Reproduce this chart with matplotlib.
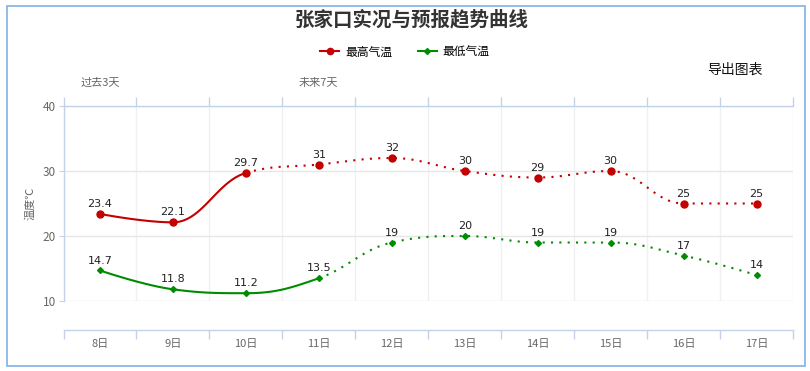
import matplotlib
matplotlib.use('Agg')
import matplotlib.pyplot as plt
import matplotlib.transforms as mtransforms
from matplotlib.patches import Rectangle
from matplotlib.lines import Line2D
import numpy as np

plt.rcParams['font.family'] = ['Noto Sans CJK SC', 'DejaVu Sans']

# DATA
days = ['8日', '9日', '10日', '11日', '12日', '13日', '14日', '15日', '16日', '17日']
high_temp = [23.4, 22.1, 29.7, 31, 32, 30, 29, 30, 25, 25]
low_temp = [14.7, 11.8, 11.2, 13.5, 19, 20, 19, 19, 17, 14]
high_obs_count = 3   # red solid through 10日
low_obs_count = 4    # green solid through 11日
period_labels = ['过去3天', '未来7天']
period_pos = [0, 3]

RED = '#c40000'
GREEN = '#008c00'
AXIS_C = '#c3d2e6'


def spline_segments(xs, ys, smoothing=1.5):
    """Highcharts-like spline: returns sampled bezier points per segment."""
    n = len(xs)
    denom = smoothing + 1
    left = [(xs[i], ys[i]) for i in range(n)]
    right = [(xs[i], ys[i]) for i in range(n)]
    for i in range(1, n - 1):
        lx, ly = xs[i - 1], ys[i - 1]
        px, py = xs[i], ys[i]
        nx, ny = xs[i + 1], ys[i + 1]
        lcx = (smoothing * px + lx) / denom
        lcy = (smoothing * py + ly) / denom
        rcx = (smoothing * px + nx) / denom
        rcy = (smoothing * py + ny) / denom
        corr = ((rcy - lcy) * (rcx - px)) / (rcx - lcx) + py - rcy
        lcy += corr
        rcy += corr
        if lcy > ly and lcy > py:
            lcy = max(ly, py); rcy = 2 * py - lcy
        elif lcy < ly and lcy < py:
            lcy = min(ly, py); rcy = 2 * py - lcy
        if rcy > ny and rcy > py:
            rcy = max(ny, py); lcy = 2 * py - rcy
        elif rcy < ny and rcy < py:
            rcy = min(ny, py); lcy = 2 * py - rcy
        left[i] = (lcx, lcy)
        right[i] = (rcx, rcy)
    segs = []
    t = np.linspace(0, 1, 40)[:, None]
    for i in range(n - 1):
        p0 = np.array([xs[i], ys[i]])
        p1 = np.array(right[i])
        p2 = np.array(left[i + 1])
        p3 = np.array([xs[i + 1], ys[i + 1]])
        pts = ((1 - t) ** 3) * p0 + 3 * ((1 - t) ** 2) * t * p1 + 3 * (1 - t) * t ** 2 * p2 + t ** 3 * p3
        segs.append(pts)
    return segs


W, H = 810, 371
fig = plt.figure(figsize=(W / 100, H / 100), dpi=100)
ax = fig.add_axes([63.5 / W, 1 - 301 / H, (793 - 63.5) / W, (301 - 106) / H])

x = np.arange(len(days))
for vals, color, n_obs, marker, ms in [(high_temp, RED, high_obs_count, 'o', 5.0),
                                       (low_temp, GREEN, low_obs_count, 'D', 3.0)]:
    segs = spline_segments(list(x), vals)
    solid = np.vstack(segs[:n_obs - 1])
    dotted = np.vstack(segs[n_obs - 1:])
    ax.plot(solid[:, 0], solid[:, 1], color=color, lw=1.5, solid_capstyle='round', zorder=3)
    ax.plot(dotted[:, 0], dotted[:, 1], color=color, lw=1.5, linestyle=(0, (1, 3)), zorder=3)
    ax.plot(x, vals, linestyle='none', marker=marker, ms=ms, color=color, zorder=4)
    for xi, v in zip(x, vals):
        ax.annotate(f'{v:g}', (xi, v), xytext=(0, 3.5), textcoords='offset points',
                    ha='center', va='bottom', fontsize=8, color='#222222', zorder=5,
                    family='DejaVu Sans')

ax.set_xlim(-0.5, len(days) - 0.5)
ax.set_ylim(10, 40)
ax.set_yticks([10, 20, 30, 40])
ax.set_xticks(np.arange(-0.5, len(days), 1))
ax.set_xticks(x, minor=True)
ax.set_xticklabels([])
ax.set_xticklabels(days, minor=True)

ax.grid(axis='y', color='#e6e6e6', lw=1)
ax.grid(axis='x', which='major', color='#f0f0f0', lw=1)
ax.set_axisbelow(True)

ax.spines['right'].set_visible(False)
for s in ['left', 'top', 'bottom']:
    ax.spines[s].set_color(AXIS_C)
    ax.spines[s].set_linewidth(1)
ax.spines['bottom'].set_position(('outward', 21))

ax.tick_params(axis='x', which='major', top=True, bottom=True, direction='out',
               length=6.3, color=AXIS_C, width=1)
ax.tick_params(axis='x', which='minor', top=False, bottom=False, length=0, pad=6,
               labelsize=8, labelcolor='#666666')
ax.tick_params(axis='y', length=3.5, color=AXIS_C, labelsize=8.5, labelcolor='#666666', pad=2)

fig.text(30 / W, 1 - 203 / H, '温度℃', rotation=90, ha='center', va='center',
         fontsize=8, color='#666666')

# period labels above the plot
trans = mtransforms.blended_transform_factory(ax.transData, fig.transFigure)
for lab, p in zip(period_labels, period_pos):
    ax.text(p, 1 - 83 / H, lab, transform=trans, ha='center', va='center',
            fontsize=8, color='#666666')

fig.text(412 / W, 1 - 20 / H, '张家口实况与预报趋势曲线', ha='center', va='center',
         fontsize=14, fontweight='bold', color='#333333')
fig.text(735 / W, 1 - 70 / H, '导出图表', ha='center', va='center', fontsize=10, color='#111111')

handles = [Line2D([], [], color=RED, lw=1.5, marker='o', ms=4.5),
           Line2D([], [], color=GREEN, lw=1.5, marker='D', ms=3)]
fig.legend(handles, ['最高气温', '最低气温'], loc='center', bbox_to_anchor=(405 / W, 1 - 52 / H),
           ncol=2, frameon=False, fontsize=8.5, handlelength=1.6, handletextpad=0.5,
           columnspacing=2.2)

fig.patches.append(Rectangle((6.5 / W, 1 - 366 / H), (805 - 6.5) / W, (366 - 5.5) / H,
                             transform=fig.transFigure, fill=False, edgecolor='#7fb2e5', lw=1.2))

fig.savefig('out.png', dpi=100)
